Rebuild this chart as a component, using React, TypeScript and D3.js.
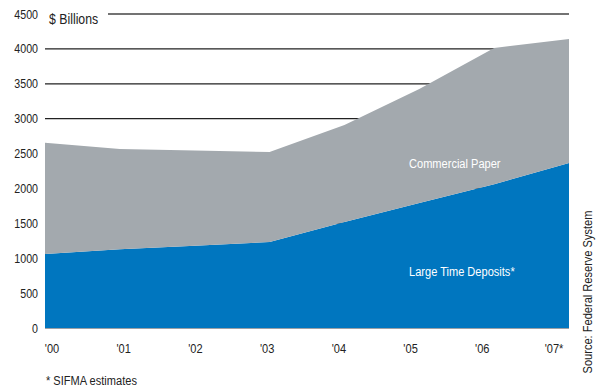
import React from "react";
import * as d3 from "d3";

const years = [2000, 2001, 2002, 2003, 2004, 2005, 2006, 2007];
const yearLabels = ["'00", "'01", "'02", "'03", "'04", "'05", "'06", "'07*"];
const largeTimeDeposits = [1060, 1130, 1180, 1232, 1520, 1790, 2060, 2364];
const commercialPaper = [1596, 1435, 1365, 1290, 1390, 1635, 1953, 1777];
const yTicks = [0, 500, 1000, 1500, 2000, 2500, 3000, 3500, 4000, 4500];

const W = 608, H = 390;
const FONT = "'Liberation Sans', Arial, sans-serif";
const SX = 0.82;

function NText({ x, y, size, anchor = "start", fill = "#222", rotate = 0, children }: any) {
  return (
    <text
      transform={`translate(${x},${y}) rotate(${rotate}) scale(${SX},1)`}
      textAnchor={anchor}
      fontFamily={FONT}
      fontSize={size}
      fill={fill}
    >
      {children}
    </text>
  );
}

export default function App() {
  const x = d3.scaleLinear().domain([2000, 2007]).range([45, 569]);
  const xl = d3.scalePoint<string>().domain(yearLabels).range([52, 554]);
  const y = d3.scaleLinear().domain([0, 4500]).range([328, 14]);

  const rows = years.map((yr, i) => ({ yr, ltd: largeTimeDeposits[i], cp: commercialPaper[i] }));
  const stack = d3.stack<any>().keys(["ltd", "cp"])(rows);
  const area = d3
    .area<any>()
    .x((d) => x(d.data.yr))
    .y0((d) => y(d[0]))
    .y1((d) => y(d[1]));
  const colors = ["#0076BF", "#A3A9AE"];

  return (
    <svg width={W} height={H} style={{ position: "absolute", left: 0, top: 0, background: "#fff" }}>
      {yTicks.slice(1).map((t) => (
        <line
          key={t}
          x1={t === 4500 ? 108 : 45}
          x2={569}
          y1={y(t)}
          y2={y(t)}
          stroke={t === 4500 ? "#444" : "#222"}
          strokeWidth={1.3}
        />
      ))}
      {stack.map((s, i) => (
        <path key={i} d={area(s) || ""} fill={colors[i]} />
      ))}
      <line x1={45} x2={569} y1={y(0) + 0.5} y2={y(0) + 0.5} stroke="#9aa0a6" strokeWidth={1} />
      {yTicks.map((t) => (
        <NText key={t} x={38} y={y(t) + 4.5} size={13} anchor="end">
          {t}
        </NText>
      ))}
      <NText x={49} y={23.5} size={15}>$ Billions</NText>
      {yearLabels.map((l) => (
        <NText key={l} x={xl(l)} y={353} size={13.5} anchor="middle">
          {l}
        </NText>
      ))}
      <NText x={409} y={168} size={13.5} fill="#fff">Commercial Paper</NText>
      <NText x={409} y={276} size={13.5} fill="#fff">Large Time Deposits*</NText>
      <NText x={592} y={292} size={13.5} anchor="middle" rotate={-90}>
        Source: Federal Reserve System
      </NText>
      <NText x={46} y={385} size={13.5}>* SIFMA estimates</NText>
    </svg>
  );
}
